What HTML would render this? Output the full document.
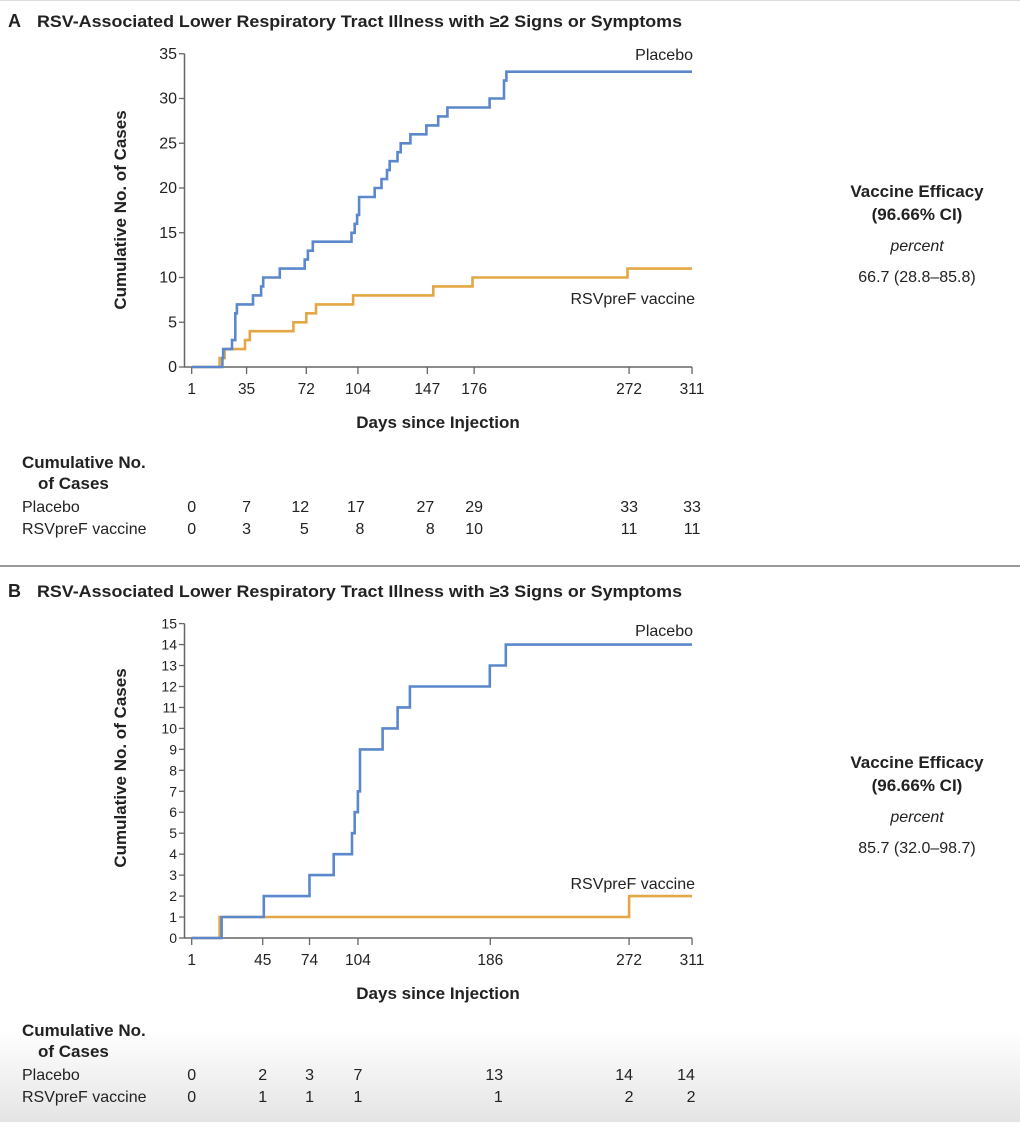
<!DOCTYPE html>
<html><head><meta charset="utf-8"><style>
body{margin:0;background:#fff;}
svg text{font-family:"Liberation Sans",sans-serif;fill:#222;}
</style></head><body>
<svg id="fig" width="1020" height="1122" viewBox="0 0 1020 1122" xmlns="http://www.w3.org/2000/svg">
<defs><linearGradient id="fade" x1="0" y1="0" x2="0" y2="1"><stop offset="0" stop-color="#fff"/><stop offset="1" stop-color="#e4e4e4"/></linearGradient></defs>
<rect x="0" y="1030" width="1020" height="92" fill="url(#fade)"/>
<line x1="0" y1="0.5" x2="1020" y2="0.5" stroke="#ddd"/>
<line x1="0" y1="566" x2="1020" y2="566" stroke="#999" stroke-width="2"/>
<g id="staticText">
<text x="8" y="27" font-size="18" font-weight="bold">A</text>
<text x="37" y="27" font-size="17" font-weight="bold" textLength="645" lengthAdjust="spacingAndGlyphs">RSV-Associated Lower Respiratory Tract Illness with ≥2 Signs or Symptoms</text>
<text x="8" y="597" font-size="18" font-weight="bold">B</text>
<text x="37" y="597" font-size="17" font-weight="bold" textLength="645" lengthAdjust="spacingAndGlyphs">RSV-Associated Lower Respiratory Tract Illness with ≥3 Signs or Symptoms</text>
</g>
</svg>
<script>
// Panel A data
const daysTicksA = [1, 35, 72, 104, 147, 176, 272, 311];
const yTicksA = [0, 5, 10, 15, 20, 25, 30, 35];
const placeboStepDaysA = [20, 20.5, 26, 28, 29, 39, 44, 45.3, 55.6, 71, 73, 76, 100, 102, 103.5, 104.7, 114.4, 118.6, 122, 123.7, 128.5, 130.5, 136.5, 146.4, 153.7, 159.4, 185.6, 194.5, 196];
const placeboStepValsA = [1, 2, 3, 6, 7, 8, 9, 10, 11, 12, 13, 14, 15, 16, 17, 19, 20, 21, 22, 23, 24, 25, 26, 27, 28, 29, 30, 32, 33];
const vaccineStepDaysA = [18.3, 21.4, 34, 37, 64, 72, 78, 101, 150.7, 175, 271];
const vaccineStepValsA = [1, 2, 3, 4, 5, 6, 7, 8, 9, 10, 11];
const tableDaysA = [1, 35, 72, 104, 147, 176, 272, 311];
const tablePlaceboA = [0, 7, 12, 17, 27, 29, 33, 33];
const tableVaccineA = [0, 3, 5, 8, 8, 10, 11, 11];
// Panel B data
const daysTicksB = [1, 45, 74, 104, 186, 272, 311];
const yTicksB = [0,1,2,3,4,5,6,7,8,9,10,11,12,13,14,15];
const placeboStepDaysB = [19.5, 45.7, 74, 89, 100.3, 102, 104, 105.3, 119.3, 128.6, 136.2, 185.7, 195.6];
const placeboStepValsB = [1, 2, 3, 4, 5, 6, 7, 9, 10, 11, 12, 13, 14];
const vaccineStepDaysB = [18.3, 272];
const vaccineStepValsB = [1, 2];
const tableDaysB = [1, 45, 74, 104, 186, 272, 311];
const tablePlaceboB = [0, 2, 3, 7, 13, 14, 14];
const tableVaccineB = [0, 1, 1, 1, 1, 2, 2];

const NS = "http://www.w3.org/2000/svg";
const svg = document.getElementById('fig');
function mk(tag, attrs, parent, text){
  const e = document.createElementNS(NS, tag);
  for (const k in attrs) e.setAttribute(k, attrs[k]);
  if (text !== undefined) e.textContent = text;
  (parent || svg).appendChild(e);
  return e;
}
const tableOffsetsA = {p:[0,0,-6,-2,-2,0,0,0], v:[0,0,-2,2,3,0,0,0]};
const tableOffsetsB = {p:[0,0,0,0,4,-5,-6], v:[0,0,0,0,8,0,-1]};

function panel(cfg){
  const x = d => 191.7 + (d - 1) * 1.614;
  const y = v => cfg.y0 - v * cfg.yStep;
  const g = mk('g', {});
  
  
  const ax = mk('path', {d:`M184.5 ${y(cfg.yTicks[cfg.yTicks.length-1])} V${cfg.y0} H${x(311)}`, fill:'none', stroke:'#666', 'stroke-width':1.5}, g);
  
  
  cfg.yTicks.forEach(v => {
    const t = mk('line', {x1:179, x2:184.5, y1:y(v), y2:y(v), stroke:'#666', 'stroke-width':1.3}, g);
    
    
    const l = mk('text', {x:177, y:y(v)+5, 'font-size':cfg.yFont, 'text-anchor':'end', fill:'#333'}, g, String(v));
    
    
  });
  cfg.xTicks.forEach(d => {
    const t = mk('line', {x1:x(d), x2:x(d), y1:cfg.y0, y2:cfg.y0+7, stroke:'#666', 'stroke-width':1.3}, g);
    
    
    const l = mk('text', {x:x(d), y:cfg.y0+27, 'font-size':15.5, 'text-anchor':'middle', fill:'#333'}, g, String(d));
    
    
  });
  function steps(days, vals, color, nm){
    let d = `M${x(1)} ${y(0)}`;
    days.forEach((dd, i) => { d += ` H${x(dd).toFixed(1)} V${y(vals[i]).toFixed(1)}`; });
    d += ` H${x(311)}`;
    const p = mk('path', {d, fill:'none', stroke:color, 'stroke-width':2.6}, g);
    
    
  }
  steps(cfg.vDays, cfg.vVals, '#e3a745', cfg.name + '-vaccine-line');
  steps(cfg.pDays, cfg.pVals, '#5b87cc', cfg.name + '-placebo-line');
  const lp = mk('text', {x:693, y:cfg.placeboLabelY, 'font-size':16, 'text-anchor':'end', fill:'#333'}, g, 'Placebo');
  
  
  const lv = mk('text', {x:695, y:cfg.vaccineLabelY, 'font-size':16, 'text-anchor':'end', fill:'#333'}, g, 'RSVpreF vaccine');
  
  
  const xt = mk('text', {x:438, y:cfg.y0+61, 'font-size':17, 'font-weight':'bold', 'text-anchor':'middle'}, g, 'Days since Injection');
  
  
  const yt = mk('text', {x:0, y:0, 'font-size':17, 'font-weight':'bold', 'text-anchor':'middle', transform:`translate(${cfg.yTitleX},${cfg.yTitleY}) rotate(-90)`}, g, 'Cumulative No. of Cases');
  
  
  const ey = cfg.effY;
  const e1 = mk('text', {x:917, y:ey, 'font-size':17, 'font-weight':'bold', 'text-anchor':'middle'}, g, 'Vaccine Efficacy');
  
  
  const e2 = mk('text', {x:917, y:ey+23, 'font-size':17, 'font-weight':'bold', 'text-anchor':'middle'}, g, '(96.66% CI)');
  
  
  const e3 = mk('text', {x:917, y:ey+54, 'font-size':16, 'font-style':'italic', 'text-anchor':'middle', fill:'#333', 'font-family':'Liberation Serif, serif'}, g, 'percent');
  
  
  const e4 = mk('text', {x:917, y:ey+85, 'font-size':16, 'text-anchor':'middle', fill:'#333'}, g, cfg.eff);
  
  
  const ty = cfg.tableY;
  const h1 = mk('text', {x:22, y:ty, 'font-size':17, 'font-weight':'bold'}, g, 'Cumulative No.');
  
  
  const h2 = mk('text', {x:38, y:ty+21, 'font-size':17, 'font-weight':'bold'}, g, 'of Cases');
  
  
  const r1 = mk('text', {x:22, y:ty+44, 'font-size':16, fill:'#333'}, g, 'Placebo');
  
  
  const r2 = mk('text', {x:22, y:ty+66, 'font-size':16, fill:'#333'}, g, 'RSVpreF vaccine');
  
  
  cfg.tDays.forEach((d, i) => {
    const a = mk('text', {x:x(d)+cfg.tOff.p[i], y:ty+44, 'font-size':16, 'text-anchor':'middle', fill:'#333'}, g, String(cfg.tP[i]));
    
    
    const b = mk('text', {x:x(d)+cfg.tOff.v[i], y:ty+66, 'font-size':16, 'text-anchor':'middle', fill:'#333'}, g, String(cfg.tV[i]));
    
    
  });
}
panel({name:'panel-a', y0:367, yStep:8.95, yTicks:yTicksA, yFont:16, xTicks:daysTicksA,
  pDays:placeboStepDaysA, pVals:placeboStepValsA, vDays:vaccineStepDaysA, vVals:vaccineStepValsA,
  placeboLabelY:60, vaccineLabelY:304, yTitleX:126, yTitleY:210, effY:197, eff:'66.7 (28.8–85.8)',
  tableY:468, tDays:tableDaysA, tP:tablePlaceboA, tV:tableVaccineA, tOff:tableOffsetsA});
panel({name:'panel-b', y0:938, yStep:20.96, yTicks:yTicksB, yFont:14, xTicks:daysTicksB,
  pDays:placeboStepDaysB, pVals:placeboStepValsB, vDays:vaccineStepDaysB, vVals:vaccineStepValsB,
  placeboLabelY:636, vaccineLabelY:889, yTitleX:126, yTitleY:768, effY:768, eff:'85.7 (32.0–98.7)',
  tableY:1036, tDays:tableDaysB, tP:tablePlaceboB, tV:tableVaccineB, tOff:tableOffsetsB});
</script>
</body></html>
